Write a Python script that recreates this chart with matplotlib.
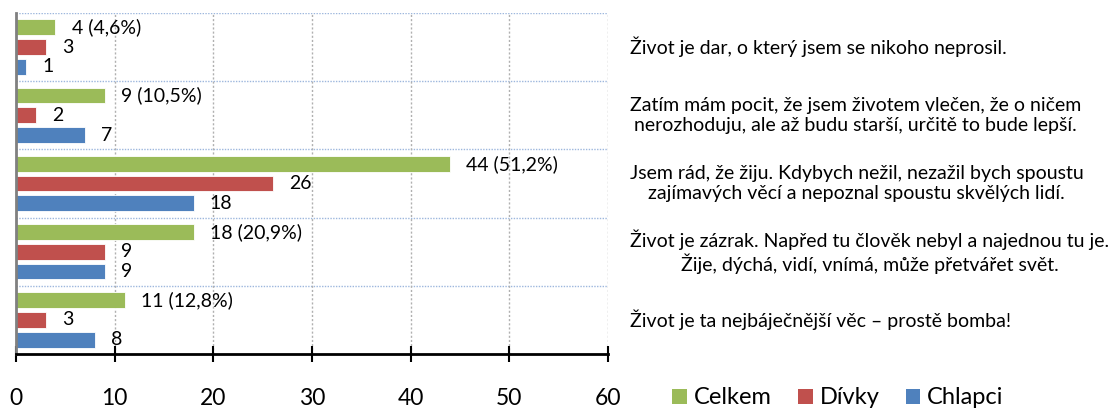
import numpy as np
import matplotlib
matplotlib.use('Agg')
import matplotlib.pyplot as plt
import matplotlib.transforms as mtransforms
from matplotlib.patches import Patch

plt.rcParams['font.family'] = ['Lato', 'DejaVu Sans']

# DATA
categories = [
    'Život je dar, o který jsem se nikoho neprosil.',
    'Zatím mám pocit, že jsem životem vlečen, že o ničem\nnerozhoduju, ale až budu starší, určitě to bude lepší.',
    'Jsem rád, že žiju. Kdybych nežil, nezažil bych spoustu\nzajímavých věcí a nepoznal spoustu skvělých lidí.',
    'Život je zázrak. Napřed tu člověk nebyl a najednou tu je.\nŽije, dýchá, vidí, vnímá, může přetvářet svět.',
    'Život je ta nejbáječnější věc – prostě bomba!',
]
celkem = [4, 9, 44, 18, 11]
celkem_pct = ['4,6', '10,5', '51,2', '20,9', '12,8']
divky = [3, 2, 26, 9, 3]
chlapci = [1, 7, 18, 9, 8]
series_names = ['Celkem', 'Dívky', 'Chlapci']
colors = ['#9BBB59', '#C0504D', '#4F81BD']
x_ticks = [0, 10, 20, 30, 40, 50, 60]


fig = plt.figure(figsize=(11.16, 4.09), dpi=100)
ax = fig.add_axes([16 / 1116, 1 - 354 / 409, 592 / 1116, 341 / 409])

centers = np.arange(len(categories)) + 0.5
bar_h = 0.23
step = 0.29
series = [celkem, divky, chlapci]
for k, (vals, col) in enumerate(zip(series, colors)):
    y = centers + (k - 1) * step
    ax.barh(y, vals, height=bar_h, color=col, edgecolor='white', linewidth=0.6)
    for i, (yy, v) in enumerate(zip(y, vals)):
        if k == 0:
            lab = f'{v} ({celkem_pct[i]}%)'
        else:
            lab = str(v)
        ax.text(v + 1.65, yy, lab, va='center', ha='left', fontsize=14)

ax.set_xlim(0, 60)
ax.set_ylim(5, 0)

# grid
for yb in range(5):
    ax.axhline(yb, color='#9DB7DD', linestyle=(0, (1, 1)), linewidth=1.0, zorder=0)
for xv in x_ticks[1:]:
    ax.axvline(xv, color='#B0B0B0', linestyle=(0, (1.5, 1.5)), linewidth=1.0, zorder=0)

for s in ['top', 'right']:
    ax.spines[s].set_visible(False)
ax.spines['left'].set_color('#808080')
ax.spines['left'].set_linewidth(2)
ax.spines['bottom'].set_color('black')
ax.spines['bottom'].set_linewidth(2)

ax.set_yticks([])
ax.set_xticks(x_ticks)
ax.tick_params(axis='x', direction='inout', length=11, width=1.5, pad=19, labelsize=16.5)

trans = mtransforms.blended_transform_factory(ax.transAxes, ax.transData)
for c, lab in zip(centers, categories):
    ax.text(1.037, c, lab, transform=trans, ha='left', va='center',
            multialignment='center', fontsize=14, linespacing=1.2)

handles = [Patch(facecolor=c, edgecolor='none') for c in colors]
fig.legend(handles, series_names, loc='center', bbox_to_anchor=(838 / 1116, 1 - 398 / 409),
           ncol=3, frameon=False, fontsize=17, handlelength=0.62, handleheight=0.62,
           handletextpad=0.3, columnspacing=1.1, borderaxespad=0)

fig.savefig('out.png', dpi=100)
